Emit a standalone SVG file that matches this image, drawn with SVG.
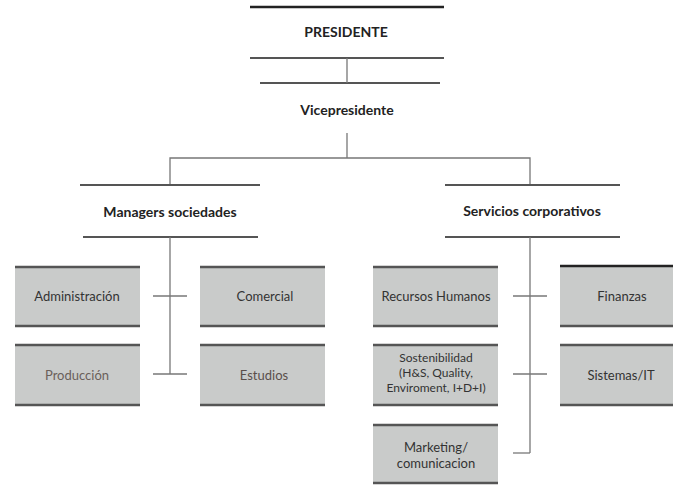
<svg xmlns="http://www.w3.org/2000/svg" width="673" height="485" viewBox="0 0 673 485">
<style>
.hl{stroke:#555;stroke-width:2;fill:none}
.ln{stroke:#777;stroke-width:1.3;fill:none}
.box{fill:#c9cbca;stroke:none}
.bt{stroke:#555;stroke-width:2.5}
.t{font-family:Lato,"Liberation Sans",sans-serif;font-size:13px;fill:#333;text-anchor:middle}
.s{font-size:12px}
.h{font-family:Lato,"Liberation Sans",sans-serif;font-size:14px;font-weight:bold;fill:#222;text-anchor:middle}
</style>
<rect width="673" height="485" fill="#fff"/>
<g id="connectors">
<line class="hl" x1="250" y1="7" x2="444" y2="7" style="stroke:#222;stroke-width:2.5"/>
<line class="hl" x1="250" y1="58" x2="444" y2="58"/>
<line class="hl" x1="260" y1="83" x2="440" y2="83"/>
<line class="ln" x1="347" y1="58" x2="347" y2="83"/>
<line class="ln" x1="347" y1="133" x2="347" y2="158"/>
<polyline class="ln" points="170,185 170,158 530,158 530,185"/>
<line class="hl" x1="80" y1="185" x2="260" y2="185"/>
<line class="hl" x1="83" y1="237" x2="258" y2="237"/>
<line class="hl" x1="445" y1="185" x2="620" y2="185"/>
<line class="hl" x1="445" y1="237" x2="620" y2="237"/>
<line class="ln" x1="170" y1="237" x2="170" y2="374"/>
<line class="ln" x1="153" y1="296" x2="187" y2="296"/>
<line class="ln" x1="153" y1="374" x2="187" y2="374"/>
<line class="ln" x1="530" y1="237" x2="530" y2="453"/>
<line class="ln" x1="513" y1="296" x2="547" y2="296"/>
<line class="ln" x1="513" y1="374" x2="547" y2="374"/>
<line class="ln" x1="513" y1="453" x2="530" y2="453"/>
</g>
<g id="presidente"><text class="h" x="346" y="37">PRESIDENTE</text></g>
<g id="vicepresidente"><text class="h" x="347" y="115">Vicepresidente</text></g>
<g id="managers"><text class="h" x="170" y="217">Managers sociedades</text></g>
<g id="servicios"><text class="h" x="532" y="216">Servicios corporativos</text></g>
<g id="administracion"><rect class="box" x="15" y="267" width="125" height="59"/><line class="bt" x1="15" y1="267" x2="140" y2="267"/><line class="bt" x1="15" y1="326" x2="140" y2="326"/><text class="t" x="77" y="301">Administración</text></g>
<g id="comercial"><rect class="box" x="200" y="267" width="125" height="59"/><line class="bt" x1="200" y1="267" x2="325" y2="267"/><line class="bt" x1="200" y1="326" x2="325" y2="326"/><text class="t" x="265" y="301">Comercial</text></g>
<g id="produccion"><rect class="box" x="15" y="345" width="125" height="60"/><line class="bt" x1="15" y1="345" x2="140" y2="345"/><line class="bt" x1="15" y1="405" x2="140" y2="405"/><text class="t" x="77" y="380" style="fill:#6a5f5a">Producción</text></g>
<g id="estudios"><rect class="box" x="200" y="345" width="125" height="60"/><line class="bt" x1="200" y1="345" x2="325" y2="345"/><line class="bt" x1="200" y1="405" x2="325" y2="405"/><text class="t" x="264" y="380" style="fill:#5a4f4a">Estudios</text></g>
<g id="rrhh"><rect class="box" x="373" y="267" width="125" height="59"/><line class="bt" x1="373" y1="267" x2="498" y2="267"/><line class="bt" x1="373" y1="326" x2="498" y2="326"/><text class="t" x="436" y="301">Recursos Humanos</text></g>
<g id="finanzas"><rect class="box" x="560" y="267" width="113" height="59"/><line class="bt" x1="560" y1="266" x2="673" y2="266" style="stroke:#222"/><line class="bt" x1="560" y1="326" x2="673" y2="326"/><text class="t" x="622" y="301">Finanzas</text></g>
<g id="sostenibilidad"><rect class="box" x="373" y="345" width="125" height="60"/><line class="bt" x1="373" y1="345" x2="498" y2="345"/><line class="bt" x1="373" y1="405" x2="498" y2="405"/><text class="t s" x="436" y="362">Sostenibilidad</text><text class="t s" x="436" y="377">(H&amp;S, Quality,</text><text class="t s" x="436" y="392">Enviroment, I+D+I)</text></g>
<g id="sistemas"><rect class="box" x="560" y="345" width="113" height="60"/><line class="bt" x1="560" y1="345" x2="673" y2="345"/><line class="bt" x1="560" y1="405" x2="673" y2="405"/><text class="t" x="621" y="380">Sistemas/IT</text></g>
<g id="marketing"><rect class="box" x="373" y="425" width="125" height="58"/><line class="bt" x1="373" y1="425" x2="498" y2="425"/><line class="bt" x1="373" y1="483" x2="498" y2="483"/><text class="t" x="436" y="452">Marketing/</text><text class="t" x="436" y="468">comunicacion</text></g>
</svg>
